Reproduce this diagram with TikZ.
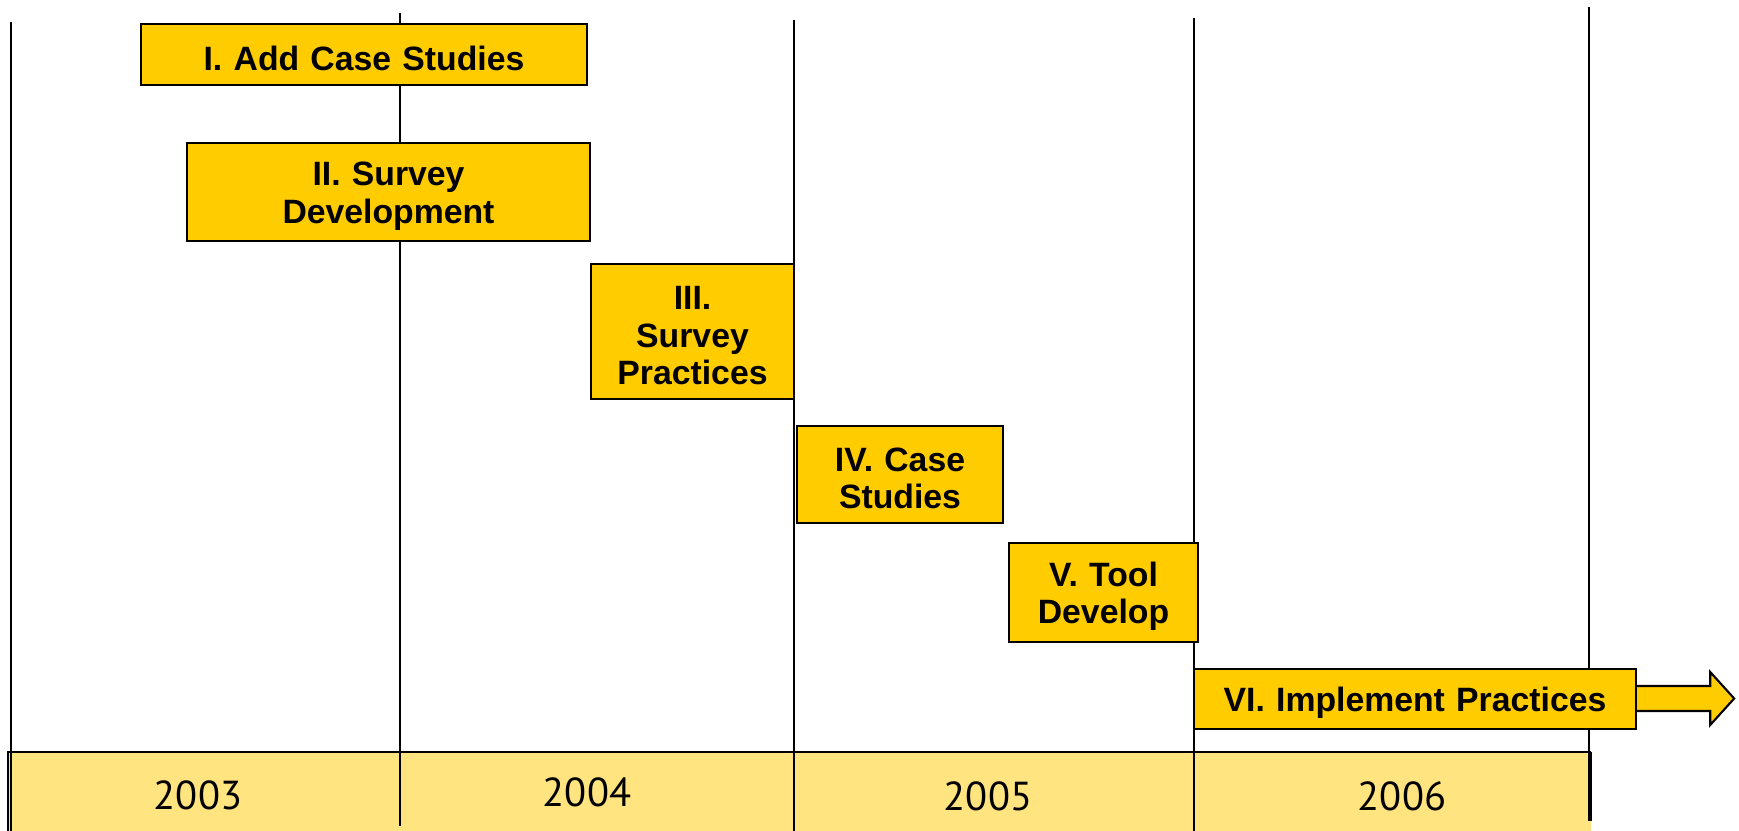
\documentclass[tikz,border=0pt]{standalone}
\usepackage{fontspec}
\setmainfont{Liberation Sans}
\newfontfamily\yearfont{PT Sans}
\usetikzlibrary{calc}
\definecolor{phasefill}{HTML}{FFCC00}
\definecolor{barfill}{HTML}{FFE480}
\begin{document}
\begin{tikzpicture}[x=0.01cm, y=-0.01cm,
  phase/.style 2 args = {draw, line width=0.6pt, fill=phasefill, align=center, inner sep=0pt,
                  minimum width=#1, text width=#1-0.2cm, minimum height=#2,
                  execute at begin node={\rule{0pt}{9pt}},
                  font=\fontsize{9.6}{10.7}\selectfont\bfseries},
  year/.style = {font=\yearfont\fontsize{11.5}{12}\selectfont}]
\useasboundingbox (0,0) rectangle (1739,831);
% year bar
\fill[barfill] (8,752) rectangle (1591,831);
\draw[line width=0.4pt] (8,831) -- (8,752) -- (1591,752);
\draw[line width=1pt] (1590,752) -- (1590,821);
% grid lines
\draw[line width=0.45pt] (11,22) -- (11,831);
\draw[line width=0.45pt] (400,13) -- (400,826);
\draw[line width=0.45pt] (794,20) -- (794,831);
\draw[line width=0.45pt] (1194,18) -- (1194,831);
\draw[line width=0.45pt] (1589,7) -- (1589,821);
% years
\node[year] (y2003) at (198,795) {2003};
\node[year] (y2004) at (587,792) {2004};
\node[year] (y2005) at (988,796) {2005};
\node[year] (y2006) at (1402,796) {2006};
% phases
\node[phase={4.46cm}{0.61cm}] (addcase) at (364,54.5) {I. Add Case Studies};
\node[phase={4.03cm}{0.98cm}] (survdev) at (388.5,192) {II. Survey\\Development};
\node[phase={2.03cm}{1.35cm}] (survprac) at (692.5,331.5) {III.\\Survey\\Practices};
\node[phase={2.06cm}{0.97cm}] (casestud) at (900,474.5) {IV. Case\\Studies};
\node[phase={1.89cm}{0.99cm}] (tooldev) at (1103.5,592.5) {V. Tool\\Develop};
\node[phase={4.42cm}{0.60cm}] (implprac) at (1415,699) {VI. Implement Practices};
\draw[line width=0.6pt, fill=phasefill] ($(implprac.east)+(0,-13)$) -- ++(73,0) -- ++(0,-14)
  -- ++(24,26.5) -- ++(-24,26.5) -- ++(0,-14) -- ++(-73,0);
\end{tikzpicture}
\end{document}
